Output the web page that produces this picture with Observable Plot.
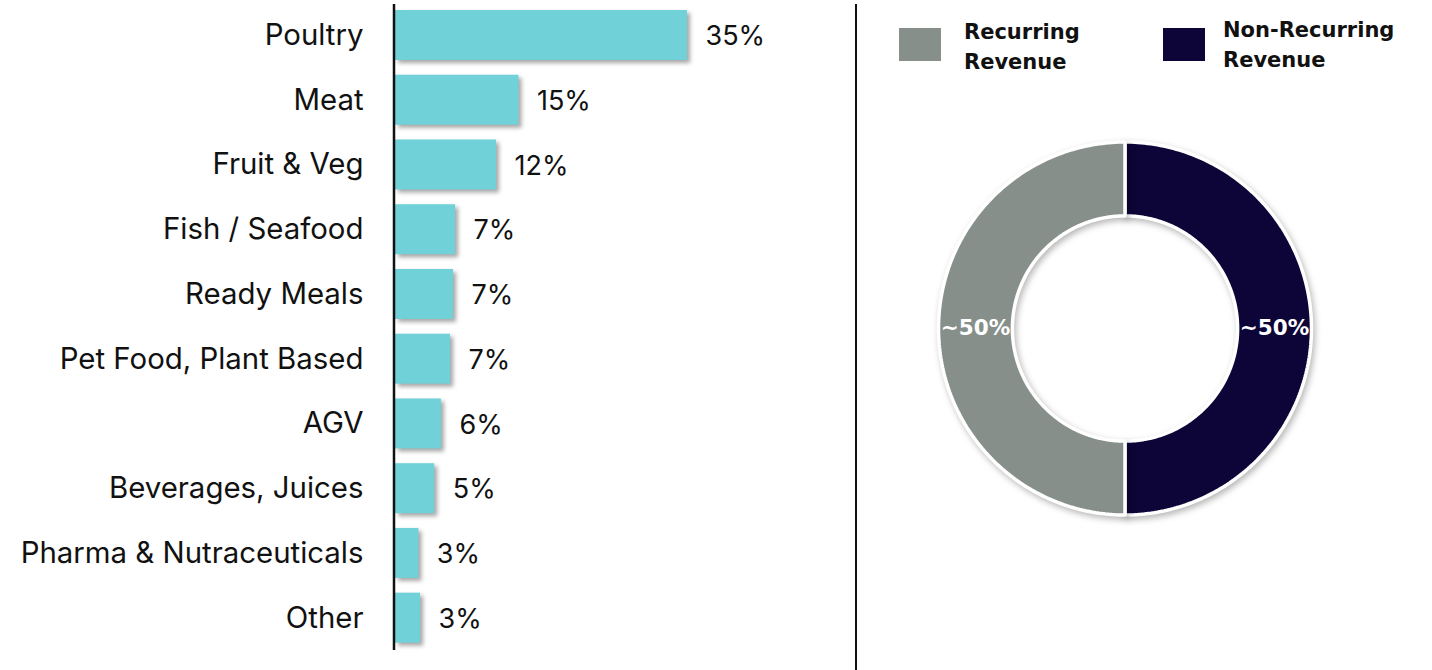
<!DOCTYPE html>
<html>
<head>
<meta charset="utf-8">
<script src="https://cdn.jsdelivr.net/npm/d3@7"></script>
<script src="https://cdn.jsdelivr.net/npm/@observablehq/plot@0.6"></script>
<style>
  html, body { margin: 0; padding: 0; background: #fff; }
  #wrap { position: relative; width: 1432px; height: 670px; overflow: hidden; }
  #bars { position: absolute; left: 0; top: 0; }
  #donut { position: absolute; left: 856px; top: 0; }
  #divider { position: absolute; left: 855px; top: 4px; width: 2.3px; height: 666px; background: #111; }
  #bars g[aria-label="bar"] rect { filter: drop-shadow(3px 3px 2px rgba(0,0,0,0.35)); }
  #donut g[aria-label="line"] path { filter: drop-shadow(2px 3px 3px rgba(0,0,0,0.28)); }
  .sw { position: absolute; width: 42px; height: 33px; }
  .lg { position: absolute; font-family: "DejaVu Sans", sans-serif; font-weight: bold; font-size: 21px; line-height: 30px; color: #111; }
</style>
</head>
<body>
<div id="wrap">
  <div id="bars"></div>
  <div id="divider"></div>
  <div id="donut"></div>
</div>
<script>
// ---- data ----
const categories = ["Poultry", "Meat", "Fruit & Veg", "Fish / Seafood", "Ready Meals",
  "Pet Food, Plant Based", "AGV", "Beverages, Juices", "Pharma & Nutraceuticals", "Other"];
const shares = [35, 14.8, 12.1, 7.2, 6.95, 6.6, 5.5, 4.7, 2.8, 3.0];
const shareLabels = ["35%", "15%", "12%", "7%", "7%", "7%", "6%", "5%", "3%", "3%"];

const revenueTypes = ["Non-Recurring Revenue", "Recurring Revenue"];
const revenueShares = [50, 50];
const revenueLabels = ["~50%", "~50%"];
const revenueColors = ["#0D0538", "#878F8B"];
const legendOrder = ["Recurring Revenue", "Non-Recurring Revenue"];

// ---- bar chart ----
const barRows = categories.map((c, i) => ({category: c, share: shares[i], label: shareLabels[i]}));

const step = 64.74, pad = 0.228;
const bars = Plot.plot({
  width: 856,
  height: 670,
  marginLeft: 395,
  marginRight: 0,
  marginTop: 4,
  marginBottom: 20,
  style: {background: "transparent", color: "#111"},
  x: {domain: [0, 35], range: [395, 687], axis: null},
  y: {domain: categories, range: [10 - pad * step, 10 - pad * step + step * (10 + pad)], padding: pad, round: false, axis: null},
  marks: [
    Plot.barX(barRows, {x: "share", y: "category", fill: "#70D1D8"}),
    Plot.axisY({tickSize: 0, tickPadding: 32, fontSize: 29.4, fontFamily: "Inter, sans-serif", label: null, fill: "#111"}),
    Plot.text(barRows, {x: "share", y: "category", text: "label", textAnchor: "start", dx: 18, dy: 1,
      fontSize: 27, fontFamily: "Inter, sans-serif", fill: "#111"}),
    Plot.ruleX([0], {dx: -1.5, stroke: "#111", strokeWidth: 2.5})
  ]
});
document.getElementById("bars").appendChild(bars);

// ---- donut ----
const revenue = revenueTypes.map((t, i) => ({type: t, share: revenueShares[i], label: revenueLabels[i], color: revenueColors[i]}));
const arcs = d3.pie().sort(null).value(d => d.share)(revenue);
const inner = 112 / 185.5;
const ringMarks = [];
const labelRows = [];
arcs.forEach(a => {
  const pts = [];
  const n = 180;
  for (let i = 0; i <= n; i++) {
    const t = a.startAngle + (a.endAngle - a.startAngle) * i / n;
    pts.push({x: Math.sin(t), y: Math.cos(t)});
  }
  for (let i = n; i >= 0; i--) {
    const t = a.startAngle + (a.endAngle - a.startAngle) * i / n;
    pts.push({x: inner * Math.sin(t), y: inner * Math.cos(t)});
  }
  pts.push(pts[0]);
  ringMarks.push(Plot.line(pts, {x: "x", y: "y", fill: a.data.color, stroke: "white", strokeWidth: 3.5, strokeLinejoin: "miter"}));
  const mid = (a.startAngle + a.endAngle) / 2;
  const rm = (1 + inner) / 2;
  labelRows.push({x: rm * Math.sin(mid), y: rm * Math.cos(mid), label: a.data.label});
});

const cx = 268.5, cy = 328, R = 186.5;
const donut = Plot.plot({
  width: 576,
  height: 670,
  margin: 0,
  style: {background: "transparent"},
  x: {domain: [-1, 1], range: [cx - R, cx + R], axis: null},
  y: {domain: [-1, 1], range: [cy + R, cy - R], axis: null},
  marks: [
    ...ringMarks,
    Plot.text(labelRows, {x: "x", y: "y", text: "label", fill: "white", fontWeight: "bold",
      fontSize: 21.5, fontFamily: "DejaVu Sans, sans-serif"})
  ]
});
document.getElementById("donut").appendChild(donut);

// ---- legend ----
const wrap = document.getElementById("wrap");
const legendPos = [{sx: 899, tx: 964}, {sx: 1163, tx: 1223}];
legendOrder.forEach((t, i) => {
  const idx = revenueTypes.indexOf(t);
  const sw = document.createElement("div");
  sw.className = "sw";
  sw.style.left = legendPos[i].sx + "px";
  sw.style.top = "28px";
  sw.style.background = revenueColors[idx];
  wrap.appendChild(sw);
  const lg = document.createElement("div");
  lg.className = "lg";
  lg.style.left = legendPos[i].tx + "px";
  lg.style.top = (i === 0 ? 17 : 15) + "px";
  const words = t.split(" ");
  lg.innerHTML = words[0] + "<br>" + words.slice(1).join(" ");
  wrap.appendChild(lg);
});
</script>
</body>
</html>
